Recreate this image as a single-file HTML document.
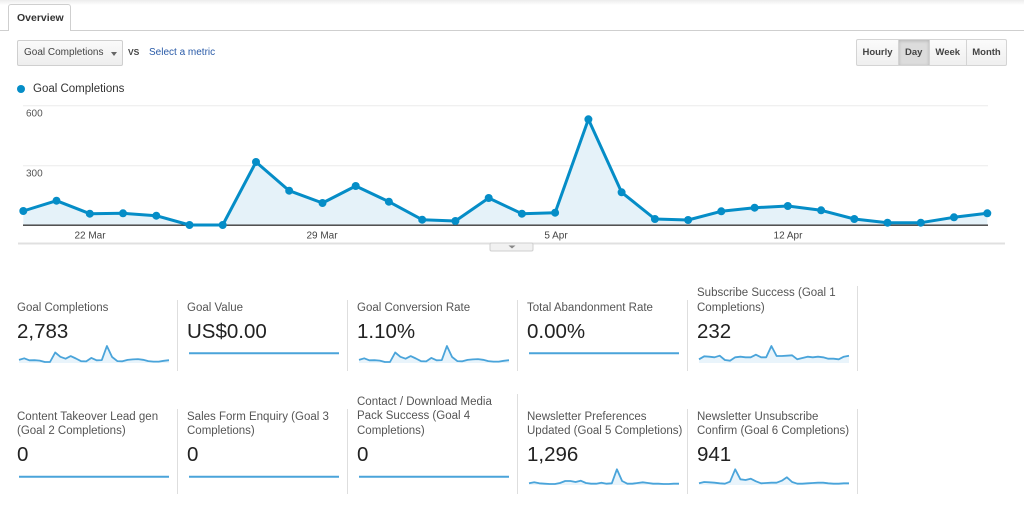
<!DOCTYPE html>
<html>
<head>
<meta charset="utf-8">
<style>
  html,body{margin:0;padding:0;background:#fff;}
  body{width:1024px;height:506px;position:relative;overflow:hidden;font-family:"Liberation Sans",Arial,sans-serif;}
  .abs{position:absolute;white-space:nowrap;}
  .topshade{position:absolute;left:0;top:0;width:1024px;height:5px;background:linear-gradient(#ececec,#fff);}
  .tabline{position:absolute;left:0;top:30px;width:1024px;height:1px;background:#cfcfcf;}
  .tab{position:absolute;left:8px;top:4px;width:63px;height:27px;border:1px solid #cfcfcf;border-bottom:none;border-radius:3px 3px 0 0;background:#fff;box-sizing:border-box;}
  .tab span{position:absolute;left:8px;top:7px;font-size:10.5px;font-weight:bold;color:#333;}
  .dd{position:absolute;left:17px;top:40px;width:106px;height:26px;box-sizing:border-box;border:1px solid #cfcfcf;border-radius:2px;background:linear-gradient(#fafafa,#eeeeee);}
  .dd span{position:absolute;left:6px;top:6px;font-size:10px;color:#444;}
  .dd i{position:absolute;left:93px;top:11px;width:0;height:0;border-left:3.5px solid transparent;border-right:3.5px solid transparent;border-top:4px solid #666;}
  .btns{position:absolute;left:856px;top:39px;width:151px;height:27px;box-sizing:border-box;border:1px solid #d4d4d4;border-radius:2px;background:linear-gradient(#fbfbfb,#efefef);display:flex;}
  .btns div{height:25px;line-height:25px;text-align:center;font-size:9.5px;font-weight:bold;color:#444;border-right:1px solid #d4d4d4;box-sizing:border-box;}
  .btns div:last-child{border-right:none;}
  .btns .sel{background:#dcdcdc;box-shadow:inset 0 1px 3px rgba(0,0,0,.18);}
  .ttl{position:absolute;font-size:11.5px;line-height:14.5px;color:#555;white-space:nowrap;}
  .val{position:absolute;font-size:20.5px;line-height:24px;color:#222;white-space:nowrap;}
  .sep{position:absolute;width:1px;background:#dedede;}
</style>
</head>
<body>
<div class="topshade"></div>
<div class="tabline"></div>
<div class="tab"><span>Overview</span></div>

<div class="dd"><span>Goal Completions</span><i></i></div>
<div class="abs" style="left:128px;top:47px;font-size:8.5px;font-weight:bold;color:#444;">VS</div>
<div class="abs" style="left:149px;top:46.5px;font-size:10px;color:#2a5ba8;">Select a metric</div>

<div class="btns">
  <div style="width:42px">Hourly</div>
  <div class="sel" style="width:30.5px">Day</div>
  <div style="width:37.5px">Week</div>
  <div style="width:39px">Month</div>
</div>

<div class="abs" style="left:33px;top:82px;font-size:11.5px;line-height:14.5px;color:#333;">Goal Completions</div>

<svg width="1024" height="506" style="position:absolute;left:0;top:0;" xmlns="http://www.w3.org/2000/svg">
  <!-- legend dot -->
  <circle cx="21" cy="89" r="4" fill="#058dc7"/>
  <!-- gridlines -->
  <line x1="23" y1="105.7" x2="988" y2="105.7" stroke="#ececec" stroke-width="1"/>
  <line x1="23" y1="165.7" x2="988" y2="165.7" stroke="#ececec" stroke-width="1"/>
  <text x="26" y="116.6" font-family="Liberation Sans, Arial, sans-serif" font-size="10" fill="#555">600</text>
  <text x="26" y="176.3" font-family="Liberation Sans, Arial, sans-serif" font-size="10" fill="#555">300</text>
  <!-- area -->
  <polygon fill="#e5f2f9" points="23.3,225 23.3,211 56.5,200.7 89.8,213.7 123,213.3 156.3,215.7 189.5,225 222.7,225 256,162 289.2,190.7 322.5,203 355.7,186 388.9,201.7 422.2,219.7 455.4,221 488.7,198 521.9,213.7 555.1,212.7 588.4,119.3 621.6,192.3 654.9,219 688.1,220 721.3,211.3 754.6,207.7 787.8,206 821.1,210.3 854.3,219 887.5,222.7 920.8,222.7 954,217.3 987.3,213.3 987.3,225"/>
  <!-- axis -->
  <line x1="23" y1="225.2" x2="988" y2="225.2" stroke="#3a3a3a" stroke-width="1.3"/>
  <!-- line -->
  <polyline fill="none" stroke="#058dc7" stroke-width="3" stroke-linejoin="round" points="23.3,211 56.5,200.7 89.8,213.7 123,213.3 156.3,215.7 189.5,225 222.7,225 256,162 289.2,190.7 322.5,203 355.7,186 388.9,201.7 422.2,219.7 455.4,221 488.7,198 521.9,213.7 555.1,212.7 588.4,119.3 621.6,192.3 654.9,219 688.1,220 721.3,211.3 754.6,207.7 787.8,206 821.1,210.3 854.3,219 887.5,222.7 920.8,222.7 954,217.3 987.3,213.3"/>
  <g fill="#058dc7">
    <circle cx="23.3" cy="211" r="4"/><circle cx="56.5" cy="200.7" r="4"/><circle cx="89.8" cy="213.7" r="4"/><circle cx="123" cy="213.3" r="4"/><circle cx="156.3" cy="215.7" r="4"/><circle cx="189.5" cy="225" r="4"/><circle cx="222.7" cy="225" r="4"/><circle cx="256" cy="162" r="4"/><circle cx="289.2" cy="190.7" r="4"/><circle cx="322.5" cy="203" r="4"/><circle cx="355.7" cy="186" r="4"/><circle cx="388.9" cy="201.7" r="4"/><circle cx="422.2" cy="219.7" r="4"/><circle cx="455.4" cy="221" r="4"/><circle cx="488.7" cy="198" r="4"/><circle cx="521.9" cy="213.7" r="4"/><circle cx="555.1" cy="212.7" r="4"/><circle cx="588.4" cy="119.3" r="4"/><circle cx="621.6" cy="192.3" r="4"/><circle cx="654.9" cy="219" r="4"/><circle cx="688.1" cy="220" r="4"/><circle cx="721.3" cy="211.3" r="4"/><circle cx="754.6" cy="207.7" r="4"/><circle cx="787.8" cy="206" r="4"/><circle cx="821.1" cy="210.3" r="4"/><circle cx="854.3" cy="219" r="4"/><circle cx="887.5" cy="222.7" r="4"/><circle cx="920.8" cy="222.7" r="4"/><circle cx="954" cy="217.3" r="4"/><circle cx="987.3" cy="213.3" r="4"/>
  </g>
  <!-- x labels -->
  <g font-family="Liberation Sans, Arial, sans-serif" font-size="10" fill="#444" text-anchor="middle">
    <text x="90" y="238.3">22 Mar</text>
    <text x="322" y="238.3">29 Mar</text>
    <text x="556" y="238.3">5 Apr</text>
    <text x="788" y="238.3">12 Apr</text>
  </g>
  <!-- bottom bar -->
  <line x1="18" y1="243.5" x2="1005" y2="243.5" stroke="#e0e0e0" stroke-width="2"/>
  <rect x="490" y="243" width="43" height="8" rx="1.5" fill="#f1f1f1" stroke="#cfcfcf" stroke-width="1"/>
  <polygon points="508.5,245.5 515.5,245.5 512,248.5" fill="#888"/>

  <!-- sparklines row 1 -->
  <g>
    <polygon fill="#e9f4fb" points="19,363 19,359.9 24.2,358.3 29.3,360.3 34.5,360.2 39.7,360.6 44.9,362 50,362 55.2,352.5 60.4,356.8 65.6,358.7 70.7,356.1 75.9,358.5 81.1,361.2 86.2,361.4 91.4,357.9 96.6,360.3 101.8,360.1 106.9,346 112.1,357 117.3,361.1 122.4,361.3 127.6,359.9 132.8,359.4 138,359.1 143.1,359.8 148.3,361.1 153.5,361.6 158.7,361.6 163.8,360.8 169,360.2 169,363"/>
    <polyline fill="none" stroke="#4aa4da" stroke-width="1.8" stroke-linejoin="round" points="19,359.9 24.2,358.3 29.3,360.3 34.5,360.2 39.7,360.6 44.9,362 50,362 55.2,352.5 60.4,356.8 65.6,358.7 70.7,356.1 75.9,358.5 81.1,361.2 86.2,361.4 91.4,357.9 96.6,360.3 101.8,360.1 106.9,346 112.1,357 117.3,361.1 122.4,361.3 127.6,359.9 132.8,359.4 138,359.1 143.1,359.8 148.3,361.1 153.5,361.6 158.7,361.6 163.8,360.8 169,360.2"/>
  </g>
  <g transform="translate(340,0)">
    <polygon fill="#e9f4fb" points="19,363 19,359.9 24.2,358.3 29.3,360.3 34.5,360.2 39.7,360.6 44.9,362 50,362 55.2,352.5 60.4,356.8 65.6,358.7 70.7,356.1 75.9,358.5 81.1,361.2 86.2,361.4 91.4,357.9 96.6,360.3 101.8,360.1 106.9,346 112.1,357 117.3,361.1 122.4,361.3 127.6,359.9 132.8,359.4 138,359.1 143.1,359.8 148.3,361.1 153.5,361.6 158.7,361.6 163.8,360.8 169,360.2 169,363"/>
    <polyline fill="none" stroke="#4aa4da" stroke-width="1.8" stroke-linejoin="round" points="19,359.9 24.2,358.3 29.3,360.3 34.5,360.2 39.7,360.6 44.9,362 50,362 55.2,352.5 60.4,356.8 65.6,358.7 70.7,356.1 75.9,358.5 81.1,361.2 86.2,361.4 91.4,357.9 96.6,360.3 101.8,360.1 106.9,346 112.1,357 117.3,361.1 122.4,361.3 127.6,359.9 132.8,359.4 138,359.1 143.1,359.8 148.3,361.1 153.5,361.6 158.7,361.6 163.8,360.8 169,360.2"/>
  </g>
  <g transform="translate(680,0)">
    <polygon fill="#e9f4fb" points="19,363 19,359.3 24.2,356.3 29.3,356.7 34.5,357.3 39.7,355.7 44.9,360 50,360.7 55.2,357.3 60.4,356.7 65.6,357.3 70.7,357.3 75.9,354.7 81.1,357.3 86.2,357.3 91.4,346 96.6,356 101.8,356 106.9,355.7 112.1,355.3 117.3,359.3 122.4,358 127.6,356.7 132.8,357.3 138,356.7 143.1,357.3 148.3,358.7 153.5,358.7 158.7,359.3 163.8,356.7 169,355.7 169,363"/>
    <polyline fill="none" stroke="#4aa4da" stroke-width="1.8" stroke-linejoin="round" points="19,359.3 24.2,356.3 29.3,356.7 34.5,357.3 39.7,355.7 44.9,360 50,360.7 55.2,357.3 60.4,356.7 65.6,357.3 70.7,357.3 75.9,354.7 81.1,357.3 86.2,357.3 91.4,346 96.6,356 101.8,356 106.9,355.7 112.1,355.3 117.3,359.3 122.4,358 127.6,356.7 132.8,357.3 138,356.7 143.1,357.3 148.3,358.7 153.5,358.7 158.7,359.3 163.8,356.7 169,355.7"/>
  </g>
  <line x1="189" y1="353.3" x2="339" y2="353.3" stroke="#4aa4da" stroke-width="2"/>
  <line x1="529" y1="353.3" x2="679" y2="353.3" stroke="#4aa4da" stroke-width="2"/>

  <!-- sparklines row 2 -->
  <line x1="19" y1="476.7" x2="169" y2="476.7" stroke="#4aa4da" stroke-width="2"/>
  <line x1="189" y1="476.7" x2="339" y2="476.7" stroke="#4aa4da" stroke-width="2"/>
  <line x1="359" y1="476.7" x2="509" y2="476.7" stroke="#4aa4da" stroke-width="2"/>
  <g transform="translate(510,0)">
    <polygon fill="#e9f4fb" points="19,485 19,483.3 24.2,482.3 29.3,483.3 34.5,483.7 39.7,484 44.9,484 50,483 55.2,481 60.4,481 65.6,482 70.7,480.7 75.9,483 81.1,483.7 86.2,483.7 91.4,482.7 96.6,483.7 101.8,483.3 106.9,469.3 112.1,481 117.3,483.7 122.4,483.7 127.6,483 132.8,482.3 138,483 143.1,483.7 148.3,483.7 153.5,484 158.7,484 163.8,483.7 169,483.7 169,485"/>
    <polyline fill="none" stroke="#4aa4da" stroke-width="1.8" stroke-linejoin="round" points="19,483.3 24.2,482.3 29.3,483.3 34.5,483.7 39.7,484 44.9,484 50,483 55.2,481 60.4,481 65.6,482 70.7,480.7 75.9,483 81.1,483.7 86.2,483.7 91.4,482.7 96.6,483.7 101.8,483.3 106.9,469.3 112.1,481 117.3,483.7 122.4,483.7 127.6,483 132.8,482.3 138,483 143.1,483.7 148.3,483.7 153.5,484 158.7,484 163.8,483.7 169,483.7"/>
  </g>
  <g transform="translate(680,0)">
    <polygon fill="#e9f4fb" points="19,485 19,483.3 24.2,482 29.3,482.3 34.5,482.7 39.7,483.3 44.9,483.7 50,481.7 55.2,469.3 60.4,479.3 65.6,480 70.7,478.7 75.9,481.3 81.1,483.3 86.2,483 91.4,482.7 96.6,482.7 101.8,480.7 106.9,477.3 112.1,482 117.3,483.7 122.4,483.7 127.6,483.3 132.8,483 138,482.7 143.1,482.7 148.3,483.3 153.5,483.7 158.7,483.7 163.8,483.3 169,483.3 169,485"/>
    <polyline fill="none" stroke="#4aa4da" stroke-width="1.8" stroke-linejoin="round" points="19,483.3 24.2,482 29.3,482.3 34.5,482.7 39.7,483.3 44.9,483.7 50,481.7 55.2,469.3 60.4,479.3 65.6,480 70.7,478.7 75.9,481.3 81.1,483.3 86.2,483 91.4,482.7 96.6,482.7 101.8,480.7 106.9,477.3 112.1,482 117.3,483.7 122.4,483.7 127.6,483.3 132.8,483 138,482.7 143.1,482.7 148.3,483.3 153.5,483.7 158.7,483.7 163.8,483.3 169,483.3"/>
  </g>
</svg>

<!-- separators row 1 -->
<div class="sep" style="left:177px;top:300px;height:71px;"></div>
<div class="sep" style="left:347px;top:300px;height:71px;"></div>
<div class="sep" style="left:517px;top:300px;height:71px;"></div>
<div class="sep" style="left:687px;top:300px;height:71px;"></div>
<div class="sep" style="left:857px;top:286px;height:85px;"></div>
<!-- separators row 2 -->
<div class="sep" style="left:177px;top:409px;height:85px;"></div>
<div class="sep" style="left:347px;top:409px;height:85px;"></div>
<div class="sep" style="left:517px;top:394px;height:100px;"></div>
<div class="sep" style="left:687px;top:409px;height:85px;"></div>
<div class="sep" style="left:857px;top:409px;height:85px;"></div>

<!-- row 1 tiles -->
<div class="ttl" style="left:17px;top:300.6px;">Goal Completions</div>
<div class="val" style="left:17px;top:320px;">2,783</div>

<div class="ttl" style="left:187px;top:300.6px;">Goal Value</div>
<div class="val" style="left:187px;top:320px;">US$0.00</div>

<div class="ttl" style="left:357px;top:300.6px;">Goal Conversion Rate</div>
<div class="val" style="left:357px;top:320px;">1.10%</div>

<div class="ttl" style="left:527px;top:300.6px;">Total Abandonment Rate</div>
<div class="val" style="left:527px;top:320px;">0.00%</div>

<div class="ttl" style="left:697px;top:286.2px;">Subscribe Success (Goal 1<br>Completions)</div>
<div class="val" style="left:697px;top:320px;">232</div>

<!-- row 2 tiles -->
<div class="ttl" style="left:17px;top:409.6px;">Content Takeover Lead gen<br>(Goal 2 Completions)</div>
<div class="val" style="left:17px;top:443.2px;">0</div>

<div class="ttl" style="left:187px;top:409.6px;">Sales Form Enquiry (Goal 3<br>Completions)</div>
<div class="val" style="left:187px;top:443.2px;">0</div>

<div class="ttl" style="left:357px;top:394.6px;">Contact / Download Media<br>Pack Success (Goal 4<br>Completions)</div>
<div class="val" style="left:357px;top:443.2px;">0</div>

<div class="ttl" style="left:527px;top:409.6px;">Newsletter Preferences<br>Updated (Goal 5 Completions)</div>
<div class="val" style="left:527px;top:443.2px;">1,296</div>

<div class="ttl" style="left:697px;top:409.6px;">Newsletter Unsubscribe<br>Confirm (Goal 6 Completions)</div>
<div class="val" style="left:697px;top:443.2px;">941</div>
</body>
</html>
